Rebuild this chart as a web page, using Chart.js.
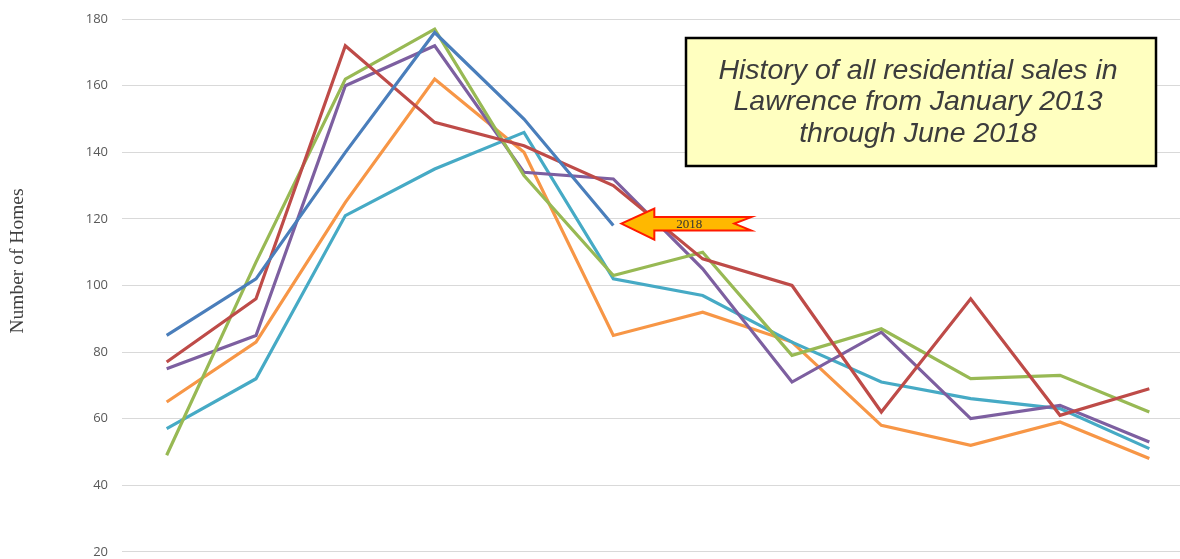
<!DOCTYPE html>
<html>
<head>
<meta charset="utf-8">
<script src="https://cdn.jsdelivr.net/npm/chart.js@4"></script>
<style>
  html, body { margin: 0; padding: 0; background: #fff; overflow: hidden; }
  #wrap { position: relative; width: 1194px; height: 571px; }
</style>
</head>
<body>
<div id="wrap"><canvas id="salesChart"></canvas></div>
<script>
const months = ['Jan', 'Feb', 'Mar', 'Apr', 'May', 'Jun', 'Jul', 'Aug', 'Sep', 'Oct', 'Nov', 'Dec'];
const yTicks = [20, 40, 60, 80, 100, 120, 140, 160, 180];

const sales2018 = [85, 102, 140, 176, 150, 118];
const sales2013 = [77, 96, 172, 149, 142, 130, 108, 100, 62, 96, 61, 69];
const sales2014 = [49, 107, 162, 177, 133, 103, 110, 79, 87, 72, 73, 62];
const sales2015 = [75, 85, 160, 172, 134, 132, 105, 71, 86, 60, 64, 53];
const sales2016 = [57, 72, 121, 135, 146, 102, 97, 83, 71, 66, 63, 51];
const sales2017 = [65, 83, 125, 162, 140, 85, 92, 83, 58, 52, 59, 48];

const titleLines = ['History of all residential sales in', 'Lawrence from January 2013', 'through June 2018'];
const arrowText = '2018';

function line(label, data, color) {
  return {
    label, data,
    borderColor: color,
    backgroundColor: color,
    borderWidth: 3.2,
    pointRadius: 0,
    tension: 0,
    fill: false
  };
}

// text box, "2018" arrow and rotated axis title
const extras = {
  id: 'extras',
  afterDraw(chart) {
    const ctx = chart.ctx;
    const x = chart.scales.x, y = chart.scales.y;

    ctx.save();
    ctx.translate(18, 261);
    ctx.rotate(-Math.PI / 2);
    ctx.font = '19.5px "Liberation Serif", serif';
    ctx.fillStyle = '#404040';
    ctx.textAlign = 'center';
    ctx.textBaseline = 'middle';
    ctx.fillText('Number of Homes', 0, 0);
    ctx.restore();

    // arrow pointing at last 2018 point
    const i = sales2018.length - 1;
    const tx = x.getPixelForValue(i) + 8;
    const ty = y.getPixelForValue(sales2018[i]) - 2;
    ctx.save();
    ctx.beginPath();
    ctx.moveTo(tx, ty);
    ctx.lineTo(tx + 33, ty - 15);
    ctx.lineTo(tx + 33, ty - 6.5);
    ctx.lineTo(tx + 130, ty - 6.5);
    ctx.lineTo(tx + 113, ty);
    ctx.lineTo(tx + 130, ty + 7);
    ctx.lineTo(tx + 33, ty + 7);
    ctx.lineTo(tx + 33, ty + 16);
    ctx.closePath();
    ctx.fillStyle = '#FFB800';
    ctx.fill();
    ctx.lineWidth = 2;
    ctx.strokeStyle = '#FF1A00';
    ctx.lineJoin = 'miter';
    ctx.stroke();
    ctx.font = '13px "Liberation Serif", serif';
    ctx.fillStyle = '#333';
    ctx.textAlign = 'center';
    ctx.textBaseline = 'middle';
    ctx.fillText(arrowText, tx + 68, ty + 1);
    ctx.restore();

    // title box
    ctx.save();
    ctx.fillStyle = '#FFFFC0';
    ctx.fillRect(686, 38, 470, 128);
    ctx.lineWidth = 2.5;
    ctx.strokeStyle = '#000';
    ctx.strokeRect(686, 38, 470, 128);
    ctx.font = 'italic 28.5px "Liberation Sans", Arial, sans-serif';
    ctx.fillStyle = '#3c3c3c';
    ctx.textAlign = 'center';
    ctx.textBaseline = 'middle';
    titleLines.forEach((t, k) => ctx.fillText(t, 918, 71 + k * 31.5));
    ctx.restore();
  }
};

new Chart(document.getElementById('salesChart'), {
  type: 'line',
  data: {
    labels: months,
    datasets: [
      line('2018', sales2018, '#4A7EBB'),
      line('2013', sales2013, '#BE4B48'),
      line('2014', sales2014, '#98B954'),
      line('2015', sales2015, '#7D5FA0'),
      line('2016', sales2016, '#46AAC5'),
      line('2017', sales2017, '#F79646')
    ]
  },
  options: {
    responsive: true,
    maintainAspectRatio: false,
    animation: false,
    layout: { padding: { top: 15, bottom: 8, left: 0, right: 0 } },
    plugins: { legend: { display: false }, tooltip: { enabled: false } },
    scales: {
      x: {
        display: false,
        offset: true
      },
      y: {
        min: 20,
        max: 180,
        afterFit(scale) { scale.width = 122; },
        afterBuildTicks(scale) { scale.ticks = yTicks.map(v => ({ value: v })); },
        border: { display: false },
        grid: { color: '#d9d9d9', lineWidth: 1, drawTicks: false },
        ticks: {
          padding: 14,
          color: '#595959',
          font: { family: '"Open Sans", "Liberation Sans", sans-serif', size: 13, lineHeight: 0.8 }
        }
      }
    }
  },
  plugins: [extras]
});
</script>
</body>
</html>
